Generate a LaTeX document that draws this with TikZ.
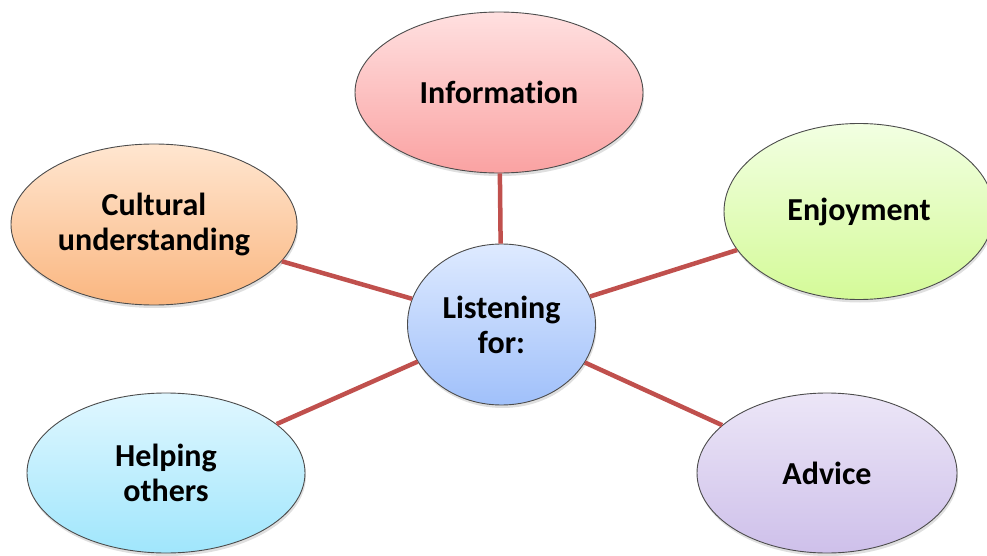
\documentclass[tikz,border=0pt]{standalone}
\usepackage{fontspec}
\setmainfont{Carlito}[Ligatures=NoCommon]
\usetikzlibrary{shapes.geometric,shadows}
\definecolor{spoke}{RGB}{192,80,77}
\definecolor{info-top}{RGB}{255,224,224}
\definecolor{info-bot}{RGB}{250,162,162}
\definecolor{hub-top}{RGB}{222,234,255}
\definecolor{hub-bot}{RGB}{160,192,250}
\definecolor{culture-top}{RGB}{255,230,208}
\definecolor{culture-bot}{RGB}{250,182,128}
\definecolor{enjoy-top}{RGB}{242,255,226}
\definecolor{enjoy-bot}{RGB}{212,250,152}
\definecolor{help-top}{RGB}{224,247,255}
\definecolor{help-bot}{RGB}{160,230,252}
\definecolor{advice-top}{RGB}{236,230,247}
\definecolor{advice-bot}{RGB}{206,192,234}
\tikzset{
    topic-ellipse/.style = {ellipse, draw=black!70, line width=0.9pt, inner sep=0pt, align=center, text=black,
        font=\fontsize{32}{35}\selectfont\bfseries,
        drop shadow={opacity=0.25, shadow xshift=1pt, shadow yshift=-3pt}},
    spoke-line/.style = {draw=spoke, line width=4.5pt},
}

\begin{document}
\begin{tikzpicture}[x=1pt, y=-1pt]
\useasboundingbox (0,0) rectangle (987,556);
\node [topic-ellipse, top color=info-top, bottom color=info-bot, minimum width=288pt, minimum height=161pt] (info) at (499,92.5) {Information};
\node [topic-ellipse, top color=culture-top, bottom color=culture-bot, minimum width=286pt, minimum height=161pt] (culture) at (154,224.5) {Cultural\\understanding};
\node [topic-ellipse, top color=enjoy-top, bottom color=enjoy-bot, minimum width=270pt, minimum height=176pt] (enjoy) at (859,211.5) {Enjoyment};
\node [topic-ellipse, top color=help-top, bottom color=help-bot, minimum width=278pt, minimum height=160pt] (helping) at (166,473) {Helping\\others};
\node [topic-ellipse, top color=advice-top, bottom color=advice-bot, minimum width=260pt, minimum height=160pt] (advice) at (827,473) {Advice};
\node [topic-ellipse, top color=hub-top, bottom color=hub-bot, minimum width=188pt, minimum height=161pt] (listen) at (501.5,324.5) {Listening\\for:};
\draw [spoke-line] (listen) -- (info);
\draw [spoke-line] (listen) -- (culture);
\draw [spoke-line] (listen) -- (enjoy);
\draw [spoke-line] (listen) -- (helping);
\draw [spoke-line] (listen) -- (advice);
\end{tikzpicture}
\end{document}
